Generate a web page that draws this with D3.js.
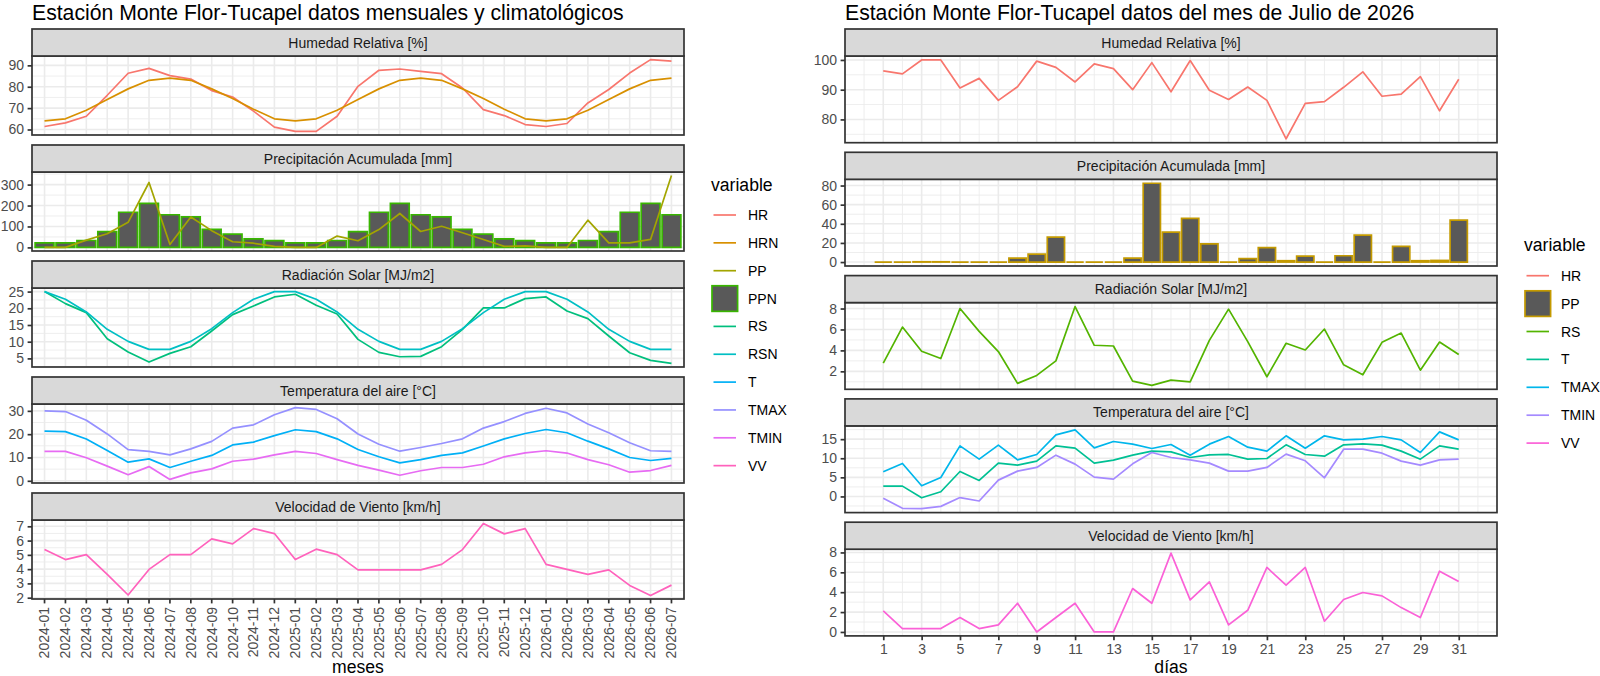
<!DOCTYPE html>
<html><head><meta charset="utf-8">
<script src="https://cdn.jsdelivr.net/npm/d3@7"></script>
<style>
body{margin:0;background:#fff}
svg{display:block}
text{font-family:"Liberation Sans",Arial,Helvetica,sans-serif}
</style>
</head><body>
<svg id="c" width="1600" height="676"></svg>
<script>
// ---------- DATA: monthly / climatology (left) ----------
const months = ["2024-01","2024-02","2024-03","2024-04","2024-05","2024-06","2024-07","2024-08","2024-09","2024-10","2024-11","2024-12",
"2025-01","2025-02","2025-03","2025-04","2025-05","2025-06","2025-07","2025-08","2025-09","2025-10","2025-11","2025-12",
"2026-01","2026-02","2026-03","2026-04","2026-05","2026-06","2026-07"];
const HR_L   = [61.4,63.1,66.2,76,86.3,88.6,85.2,83.6,78.2,75.2,68.6,61.1, 59.1,59.1,66.2,80.2,87.7,88.3,87.2,86.1,79.4,69.3,66.5,62.3, 61.4,62.8,72.4,78.7,86.4,92.7,92.0];
const HRN_L  = [64,65,69,74,79,83,84,83,79,74.5,69.5,65, 64,65,69,74,79,83,84,83,79,74.5,69.5,65, 64,65,69,74,79,83,84];
const PP_L   = [0,0,35,65,120,310,14,145,80,27,20,5, 0,0,54,32,85,162,76,101,70,38,5,7, 0,0,130,22,22,38,343];
const PPN_L  = [22,22,33,75,168,210,156,146,86,63,41,32, 22,22,33,75,168,210,156,146,86,63,41,32, 22,22,33,75,168,210,156];
const RS_L   = [25,21.4,18.7,10.9,6.9,3.9,6.5,8.5,13.2,18.1,20.7,23.4, 24.2,20.9,18.3,10.7,6.8,5.5,5.6,8.5,13.7,20.1,20.1,22.9, 23.4,19.2,16.9,11.7,6.7,4.4,3.5];
const RSN_L  = [25,22.7,18.9,13.7,10.1,7.7,7.7,10.1,13.9,18.7,22.7,25, 25,22.7,18.9,13.7,10.1,7.7,7.7,10.1,13.9,18.7,22.7,25, 25,22.7,18.9,13.7,10.1,7.7,7.7];
const T_L    = [21.3,21.1,17.9,13,8,9.4,5.7,8.4,10.9,15.4,16.6,19.4, 21.9,21.1,18,13.4,10.3,7.7,9.1,10.9,12,14.9,18,20.3, 22,20.6,17,13.7,10,8.7,9.6];
const TMAX_L = [30,29.7,26,20.1,13.4,12.6,11.1,13.7,16.9,22.6,24,28.3, 31.4,30.6,26.6,20.1,15.7,12.7,14.3,16,18,22.6,25.4,28.9, 31.1,29.1,24.4,20.6,16.3,12.9,12.6];
const TMIN_L = [12.6,12.6,9.9,6.3,2.6,6.1,0.6,3.4,5.1,8.4,9.3,11.1, 12.6,11.7,9.1,6.6,4.6,2.4,4.3,5.7,5.7,7.1,10.3,12, 12.9,11.9,9.1,6.9,3.7,4.4,6.6];
const VV_L   = [5.37,4.67,5.02,3.63,2.19,3.98,5.02,5.02,6.12,5.77,6.84,6.49, 4.67,5.4,5.02,3.95,3.95,3.95,3.95,4.33,5.37,7.19,6.47,6.84, 4.33,3.98,3.63,3.95,2.86,2.16,2.88];

// ---------- DATA: daily July 2026 (right) ----------
const days   = [1,2,3,4,5,6,7,8,9,10,11,12,13,14,15,16,17,18,19,20,21,22,23,24,25,26,27,28,29,30,31];
const HR_D   = [96.3,95.3,100,100,90.6,93.8,86.4,91,99.6,97.5,92.6,98.7,97.1,90,99.1,89.3,99.8,89.8,86.7,90.9,86.4,73.5,85.4,86,90.8,96,87.8,88.5,94.4,82.9,93.5];
const PP_D   = [0,0,0.3,0.3,0,0,0,4.2,8.3,26,0,0,0,4.2,82.4,31.3,45.6,19.1,0,3.5,15,1.4,6.3,0,6.6,28.2,0,16.3,1.4,1.7,43.8];
const RS_D   = [2.78,6.23,3.92,3.22,8.0,5.82,3.89,0.85,1.61,3.0,8.19,4.49,4.42,1.07,0.66,1.16,1.0,4.96,7.94,4.84,1.48,4.68,4.04,6.04,2.62,1.67,4.77,5.66,2.11,4.8,3.6];
const T_D    = [2.7,2.7,-0.35,1.22,6.54,4.18,8.72,8.2,9.24,13.25,12.64,8.72,9.5,10.81,11.86,11.68,10.2,10.9,10.99,9.76,9.94,13.51,10.99,10.55,13.51,13.78,13.43,11.86,9.76,13.25,12.38];
const TMAX_D = [6.45,8.63,2.79,4.97,13.25,9.76,13.43,9.59,10.99,16.13,17.44,12.73,14.39,13.69,12.55,13.6,10.81,13.69,15.69,12.9,11.86,15.87,12.64,15.87,14.82,15.0,15.69,14.82,11.51,16.91,14.82];
const TMIN_D = [-0.5,-3.1,-3.2,-2.6,-0.3,-1.2,4.27,6.63,7.59,10.81,8.46,5.06,4.53,8.54,11.51,10.2,9.59,8.72,6.63,6.63,7.59,11.07,9.33,4.88,12.38,12.38,11.33,9.24,8.2,9.59,9.76];
const VV_D   = [2.12,0.34,0.34,0.34,1.45,0.34,0.71,2.89,0,1.45,2.89,0,0,4.37,2.89,7.93,3.23,5.04,0.71,2.18,6.49,4.71,6.49,1.08,3.26,3.97,3.63,2.45,1.45,6.12,5.08];
const dayTicks = [1,3,5,7,9,11,13,15,17,19,21,23,25,27,29,31];

// ---------- tick labels ----------
const ticksHR_L = [60,70,80,90], ticksPP_L = [0,100,200,300], ticksRS_L = [5,10,15,20,25], ticksT_L = [0,10,20,30], ticksVV_L = [2,3,4,5,6,7];
const ticksHR_D = [80,90,100], ticksPP_D = [0,20,40,60,80], ticksRS_D = [2,4,6,8], ticksT_D = [0,5,10,15], ticksVV_D = [0,2,4,6,8];

const stripLabels = ["Humedad Relativa [%]","Precipitación Acumulada [mm]","Radiación Solar [MJ/m2]","Temperatura del aire [°C]","Velocidad de Viento [km/h]"];
const varsL = ["HR","HRN","PP","PPN","RS","RSN","T","TMAX","TMIN","VV"];
const colsL = ["#F8766D","#D89000","#A3A500","#39B600","#00BF7D","#00BFC4","#00B0F6","#9590FF","#E76BF3","#FF62BC"];
const varsR = ["HR","PP","RS","T","TMAX","TMIN","VV"];
const colsR = ["#F8766D","#C49A00","#53B400","#00C094","#00B6EB","#A58AFF","#FB61D7"];

// ---------- drawing ----------
const svg = d3.select("#c");
const BAR_FILL = "#595959", GRID = "#EBEBEB", DARK = "#333333", TXT = "#4D4D4D";
const FONT_TICK = 14, FONT_STRIP = 14;
const LW = 1.7;

function yDom(arrs, withZero){
  let all = [].concat(...arrs);
  let mn = d3.min(all), mx = d3.max(all);
  if (withZero){ mn = Math.min(mn,0); mx = Math.max(mx,0); }
  const p = (mx-mn)*0.05; return [mn-p, mx+p];
}
function minors(ticks, dom){
  const st = ticks[1]-ticks[0], out=[];
  for (let v = ticks[0]-st/2; v <= ticks[ticks.length-1]+st/2+1e-9; v += st){
    if (v > dom[0] && v < dom[1]) out.push(v);
  }
  return out;
}

function drawPanel(side, p){
  const g = svg.append("g");
  const sTop = p.top, pTop = p.top + 27, pBot = pTop + side.ph;
  const y = d3.scaleLinear().domain(p.dom).range([pBot, pTop]);
  g.append("rect").attr("x",side.x0).attr("y",pTop).attr("width",side.x1-side.x0).attr("height",side.ph).attr("fill","#fff");
  minors(p.ticks, p.dom).forEach(v=>{
    g.append("line").attr("x1",side.x0).attr("x2",side.x1).attr("y1",y(v)).attr("y2",y(v)).attr("stroke",GRID).attr("stroke-width",0.85);
  });
  side.xMinor.forEach(px=>{
    g.append("line").attr("x1",px).attr("x2",px).attr("y1",pTop).attr("y2",pBot).attr("stroke",GRID).attr("stroke-width",0.85);
  });
  p.ticks.forEach(v=>{
    g.append("line").attr("x1",side.x0).attr("x2",side.x1).attr("y1",y(v)).attr("y2",y(v)).attr("stroke",GRID).attr("stroke-width",1.6);
  });
  side.xMajor.forEach(px=>{
    g.append("line").attr("x1",px).attr("x2",px).attr("y1",pTop).attr("y2",pBot).attr("stroke",GRID).attr("stroke-width",1.6);
  });
  const clip = "clip"+Math.round(side.x0)+"_"+Math.round(pTop);
  svg.append("clipPath").attr("id",clip).append("rect").attr("x",side.x0).attr("y",pTop).attr("width",side.x1-side.x0).attr("height",side.ph);
  const sg = g.append("g").attr("clip-path","url(#"+clip+")");
  p.series.filter(s=>s.type==="bar").forEach(s=>{
    sg.selectAll(null).data(s.values).enter().append("path")
      .attr("d",(d,i)=>{
        const x = side.xpos(i)-side.barW/2, yt = y(Math.max(d,0)), yb = y(Math.min(d,0));
        return "M"+x+","+yb+"V"+yt+"H"+(x+side.barW)+"V"+yb+"Z";
      })
      .attr("fill",BAR_FILL).attr("stroke",s.color).attr("stroke-width",LW).attr("stroke-linejoin","miter");
  });
  p.series.filter(s=>s.type==="line").forEach(s=>{
    const line = d3.line().x((d,i)=>side.xpos(i)).y(d=>y(d));
    sg.append("path").datum(s.values).attr("d",line).attr("fill","none").attr("stroke",s.color).attr("stroke-width",LW).attr("stroke-linejoin","round");
  });
  g.append("rect").attr("x",side.x0).attr("y",pTop).attr("width",side.x1-side.x0).attr("height",side.ph).attr("fill","none").attr("stroke",DARK).attr("stroke-width",LW);
  g.append("rect").attr("x",side.x0).attr("y",sTop).attr("width",side.x1-side.x0).attr("height",27).attr("fill","#D9D9D9").attr("stroke",DARK).attr("stroke-width",LW);
  g.append("text").attr("x",(side.x0+side.x1)/2).attr("y",sTop+13.5+5).attr("text-anchor","middle").attr("font-size",FONT_STRIP).attr("fill","#1A1A1A").text(p.label);
  const ax = g.append("g").attr("transform","translate("+side.x0+",0)")
    .call(d3.axisLeft(y).tickValues(p.ticks).tickSize(4.4).tickPadding(3.5).tickFormat(d3.format("~g")));
  ax.select(".domain").remove();
  ax.selectAll(".tick line").attr("stroke",DARK).attr("stroke-width",LW);
  ax.selectAll(".tick text").attr("fill",TXT).attr("font-size",FONT_TICK).attr("font-family","'Liberation Sans',Arial,sans-serif");
  return {pBot};
}

// ----- LEFT -----
const xL = d3.scaleBand().domain(months).range([32,684]).paddingInner(0).paddingOuter(0.1);
const leftSide = {x0:32, x1:684, ph:79,
  xpos: i=>xL(months[i])+xL.bandwidth()/2,
  barW: xL.bandwidth()*0.9,
  xMajor: months.map(m=>xL(m)+xL.bandwidth()/2), xMinor: []};
const leftPanels = [
  {label:stripLabels[0], ticks:ticksHR_L, dom:yDom([HR_L,HRN_L]), series:[{type:"line",values:HR_L,color:colsL[0]},{type:"line",values:HRN_L,color:colsL[1]}]},
  {label:stripLabels[1], ticks:ticksPP_L, dom:yDom([PP_L,PPN_L],true), series:[{type:"bar",values:PPN_L,color:colsL[3]},{type:"line",values:PP_L,color:colsL[2]}]},
  {label:stripLabels[2], ticks:ticksRS_L, dom:yDom([RS_L,RSN_L]), series:[{type:"line",values:RS_L,color:colsL[4]},{type:"line",values:RSN_L,color:colsL[5]}]},
  {label:stripLabels[3], ticks:ticksT_L, dom:yDom([T_L,TMAX_L,TMIN_L]), series:[{type:"line",values:T_L,color:colsL[6]},{type:"line",values:TMAX_L,color:colsL[7]},{type:"line",values:TMIN_L,color:colsL[8]}]},
  {label:stripLabels[4], ticks:ticksVV_L, dom:yDom([VV_L]), series:[{type:"line",values:VV_L,color:colsL[9]}]}
];
let lb;
leftPanels.forEach((p,k)=>{ p.top = 29 + k*116; lb = drawPanel(leftSide,p); });
{
  const g = svg.append("g");
  months.forEach((m,i)=>{
    const px = leftSide.xpos(i);
    g.append("line").attr("x1",px).attr("x2",px).attr("y1",lb.pBot).attr("y2",lb.pBot+4.4).attr("stroke",DARK).attr("stroke-width",LW);
    g.append("text").attr("transform","translate("+px+","+(lb.pBot+8)+") rotate(-90)")
      .attr("text-anchor","end").attr("dy","0.35em").attr("font-size",FONT_TICK).attr("fill",TXT).text(m);
  });
  g.append("text").attr("x",(32+684)/2).attr("y",673).attr("text-anchor","middle").attr("font-size",17.6).attr("fill","#000").text("meses");
}

// ----- RIGHT -----
const xR0 = 845, xR1 = 1497;
const barHalf = 0.45;
const lo = d3.min(days)-barHalf, hi = d3.max(days)+barHalf, padR = (hi-lo)*0.05;
const xR = d3.scaleLinear().domain([lo-padR, hi+padR]).range([xR0, xR1]);
const minorDays = d3.range(0, 34, 2).filter(v=>v>lo-padR && v<hi+padR);
const rightSide = {x0:xR0, x1:xR1, ph:86.7,
  xpos: i=>xR(days[i]), barW: (xR(1.9)-xR(1)),
  xMajor: dayTicks.map(d=>xR(d)), xMinor: minorDays.map(d=>xR(d))};
const rightPanels = [
  {label:stripLabels[0], ticks:ticksHR_D, dom:yDom([HR_D]), series:[{type:"line",values:HR_D,color:colsR[0]}]},
  {label:stripLabels[1], ticks:ticksPP_D, dom:yDom([PP_D],true), series:[{type:"bar",values:PP_D,color:colsR[1]}]},
  {label:stripLabels[2], ticks:ticksRS_D, dom:yDom([RS_D]), series:[{type:"line",values:RS_D,color:colsR[2]}]},
  {label:stripLabels[3], ticks:ticksT_D, dom:yDom([T_D,TMAX_D,TMIN_D]), series:[{type:"line",values:T_D,color:colsR[3]},{type:"line",values:TMAX_D,color:colsR[4]},{type:"line",values:TMIN_D,color:colsR[5]}]},
  {label:stripLabels[4], ticks:ticksVV_D, dom:yDom([VV_D]), series:[{type:"line",values:VV_D,color:colsR[6]}]}
];
let rb;
rightPanels.forEach((p,k)=>{ p.top = 29 + k*123.3; rb = drawPanel(rightSide,p); });
{
  const ax = svg.append("g").attr("transform","translate(0,"+rb.pBot+")")
    .call(d3.axisBottom(xR).tickValues(dayTicks).tickSize(4.4).tickPadding(3.5).tickFormat(d3.format("d")));
  ax.select(".domain").remove();
  ax.selectAll(".tick line").attr("stroke",DARK).attr("stroke-width",LW);
  ax.selectAll(".tick text").attr("fill",TXT).attr("font-size",FONT_TICK).attr("font-family","'Liberation Sans',Arial,sans-serif");
  svg.append("text").attr("x",(xR0+xR1)/2).attr("y",673).attr("text-anchor","middle").attr("font-size",17.6).attr("fill","#000").text("días");
}

// ----- titles -----
svg.append("text").attr("x",32).attr("y",19.5).attr("font-size",21.2).attr("fill","#000").text("Estación Monte Flor-Tucapel datos mensuales y climatológicos");
svg.append("text").attr("x",845).attr("y",19.5).attr("font-size",21.2).attr("fill","#000").text("Estación Monte Flor-Tucapel datos del mes de Julio de 2026");

// ----- legends -----
function legend(x, yTitle, yFirst, step, vars, cols, barVar){
  const g = svg.append("g");
  g.append("text").attr("x",x).attr("y",yTitle+6).attr("font-size",17.6).attr("fill","#000").text("variable");
  vars.forEach((v,i)=>{
    const cy = yFirst + i*step;
    if (v===barVar){
      g.append("rect").attr("x",x+1).attr("y",cy-12.8).attr("width",25.6).attr("height",25.6)
        .attr("fill",BAR_FILL).attr("stroke",cols[i]).attr("stroke-width",LW);
    } else {
      g.append("line").attr("x1",x+2.5).attr("x2",x+25).attr("y1",cy).attr("y2",cy).attr("stroke",cols[i]).attr("stroke-width",LW);
    }
    g.append("text").attr("x",x+37).attr("y",cy+5).attr("font-size",14).attr("fill","#000").text(v);
  });
}
legend(711, 185, 215, 27.85, varsL, colsL, "PPN");
legend(1524, 245, 275.7, 27.9, varsR, colsR, "PP");
</script>
</body></html>
